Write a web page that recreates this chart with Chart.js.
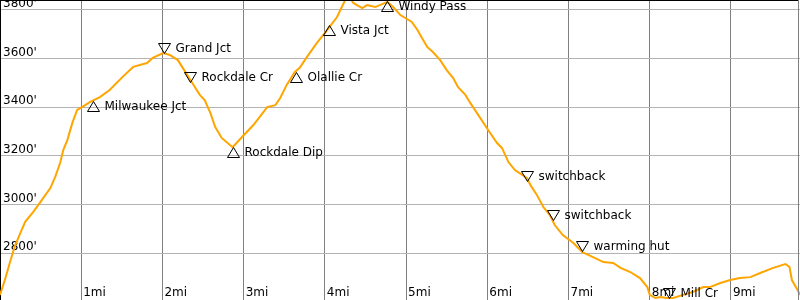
<!DOCTYPE html>
<html>
<head>
<meta charset="utf-8">
<script src="https://cdn.jsdelivr.net/npm/chart.js@4"></script>
<style>
  html, body { margin: 0; padding: 0; background: #fff; }
  #wrap { width: 800px; height: 300px; }
</style>
</head>
<body>
<div id="wrap"><canvas id="profile"></canvas></div>
<script>
// trail profile, distance in miles / elevation in feet
const miles = [0, 0.06, 0.12, 0.18, 0.25, 0.31, 0.41, 0.49, 0.62, 0.68, 0.74, 0.78, 0.83, 0.89, 0.95,
  1.01, 1.11, 1.23, 1.35, 1.51, 1.64, 1.81, 1.88, 2.01, 2.09, 2.19, 2.25, 2.36, 2.46, 2.52, 2.59,
  2.65, 2.73, 2.86, 2.89, 2.98, 3.12, 3.29, 3.39, 3.45, 3.53, 3.63, 3.69, 3.78, 3.90, 4.03, 4.15,
  4.25, 4.30, 4.35, 4.46, 4.52, 4.62, 4.77, 4.84, 4.93, 4.99, 5.07, 5.14, 5.21, 5.26, 5.33, 5.42,
  5.50, 5.58, 5.64, 5.73, 5.79, 5.89, 6.01, 6.12, 6.18, 6.26, 6.34, 6.43, 6.49, 6.53, 6.61, 6.69,
  6.77, 6.83, 6.93, 7.06, 7.17, 7.27, 7.43, 7.55, 7.64, 7.76, 7.88, 7.97, 8.00, 8.07, 8.13, 8.21,
  8.29, 8.41, 8.53, 8.66, 8.74, 8.87, 8.99, 9.11, 9.24, 9.36, 9.52, 9.67, 9.72, 9.75, 9.82, 9.85];
const elevation = [2629, 2690, 2760, 2826, 2883, 2929, 2970, 3007, 3068, 3114, 3171, 3225, 3266, 3335, 3389,
  3401, 3422, 3442, 3471, 3525, 3566, 3582, 3603, 3623, 3615, 3594, 3562, 3504, 3451, 3430, 3377,
  3319, 3274, 3237, 3245, 3278, 3327, 3401, 3409, 3438, 3492, 3545, 3562, 3607, 3664, 3718, 3771,
  3841, 3857, 3829, 3808, 3820, 3812, 3833, 3812, 3779, 3767, 3751, 3718, 3677, 3648, 3627, 3594,
  3553, 3520, 3483, 3451, 3418, 3368, 3307, 3253, 3233, 3175, 3142, 3122, 3109, 3081, 3040, 2990,
  2957, 2916, 2875, 2842, 2805, 2789, 2764, 2760, 2740, 2723, 2698, 2661, 2629, 2616, 2620, 2616,
  2616, 2629, 2641, 2661, 2661, 2678, 2690, 2698, 2702, 2719, 2740, 2756, 2744, 2690, 2649, 2629];

// waypoints along the trail
const wpNames = ['Milwaukee Jct', 'Grand Jct', 'Rockdale Cr', 'Rockdale Dip', 'Olallie Cr', 'Vista Jct',
  'Windy Pass', 'switchback', 'switchback', 'warming hut', 'Mill Cr'];
const wpMiles = [1.15, 2.02, 2.34, 2.87, 3.65, 4.05, 4.77, 6.49, 6.81, 7.17, 8.24];
const wpElev = [3426, 3623, 3504, 3237, 3545, 3738, 3837, 3097, 2937, 2809, 2616];
const wpUp = [true, false, false, true, true, true, true, false, false, false, false];

const xTicks = [1, 2, 3, 4, 5, 6, 7, 8, 9];
const yTicks = [2800, 3000, 3200, 3400, 3600, 3800];

const FONT = "'DejaVu Sans', sans-serif";

// waypoint triangles + names, tip of the triangle sits on the point
const waypointPlugin = {
    id: 'waypoints',
    afterDatasetsDraw(chart) {
        const ctx = chart.ctx;
        const xs = chart.scales.x, ys = chart.scales.y;
        ctx.save();
        ctx.strokeStyle = '#000';
        ctx.fillStyle = '#000';
        ctx.lineWidth = 1;
        ctx.font = '12px ' + FONT;
        ctx.textBaseline = 'middle';
        ctx.textAlign = 'left';
        wpNames.forEach((name, i) => {
            const px = Math.round(xs.getPixelForValue(wpMiles[i])) + 0.5;
            const py = Math.round(ys.getPixelForValue(wpElev[i])) + 0.5;
            const dir = wpUp[i] ? 1 : -1;
            ctx.beginPath();
            ctx.moveTo(px, py);
            ctx.lineTo(px - 6, py + dir * 10);
            ctx.lineTo(px + 6, py + dir * 10);
            ctx.closePath();
            ctx.stroke();
            ctx.fillText(name, px + 11, py + dir * 5);
        });
        ctx.restore();
    }
};

// black top edge, grey right edge
const framePlugin = {
    id: 'frame',
    afterDraw(chart) {
        const ctx = chart.ctx;
        const a = chart.chartArea;
        ctx.save();
        ctx.lineWidth = 1;
        ctx.strokeStyle = '#000';
        ctx.beginPath();
        ctx.moveTo(0, 0.5);
        ctx.lineTo(a.right - 1, 0.5);
        ctx.stroke();
        ctx.strokeStyle = '#808080';
        ctx.beginPath();
        ctx.moveTo(a.right - 1.5, 0);
        ctx.lineTo(a.right - 1.5, a.bottom);
        ctx.stroke();
        ctx.restore();
    }
};

new Chart(document.getElementById('profile'), {
    type: 'line',
    data: {
        datasets: [{
            data: miles.map((m, i) => ({ x: m, y: elevation[i] })),
            borderColor: '#ffa500',
            borderWidth: 2,
            pointRadius: 0,
            tension: 0,
            fill: false
        }]
    },
    options: {
        responsive: true,
        maintainAspectRatio: false,
        animation: false,
        layout: { padding: 0 },
        plugins: {
            legend: { display: false },
            tooltip: { enabled: false }
        },
        scales: {
            x: {
                type: 'linear',
                min: 0,
                max: 9.85,
                afterBuildTicks: (s) => { s.ticks = xTicks.map(v => ({ value: v })); },
                afterFit: (s) => { s.height = 0; s.paddingLeft = 0; s.paddingRight = 0; },
                grid: { color: '#808080', drawTicks: false },
                border: { display: false },
                ticks: {
                    mirror: true,
                    padding: 0,
                    align: 'start',
                    labelOffset: 2,
                    color: '#000',
                    font: { family: FONT, size: 12 },
                    callback: (v) => v + 'mi'
                }
            },
            y: {
                min: 2608,
                max: 3841,
                afterBuildTicks: (s) => { s.ticks = yTicks.map(v => ({ value: v })); },
                afterFit: (s) => { s.width = 0; s.paddingTop = 0; s.paddingBottom = 0; },
                grid: { color: '#b4b4b4', drawTicks: false },
                border: { display: true, color: '#000' },
                ticks: {
                    mirror: true,
                    padding: 3,
                    labelOffset: -6,
                    color: '#000',
                    font: { family: FONT, size: 12 },
                    callback: (v) => v + "'"
                }
            }
        }
    },
    plugins: [waypointPlugin, framePlugin]
});
</script>
</body>
</html>
